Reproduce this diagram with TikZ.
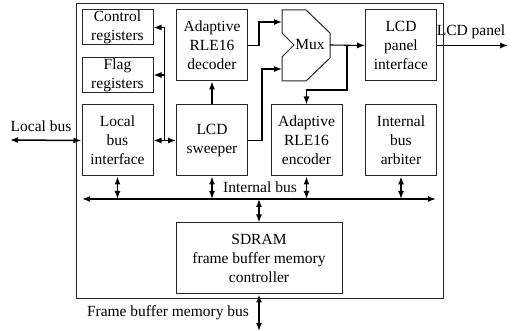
\documentclass[tikz,border=0pt]{standalone}
\usepackage{fontspec}
\setmainfont{Liberation Serif}
\usepackage{tikz}
\usetikzlibrary{arrows.meta,calc}

\tikzset{
    blk/.style={draw=black!85, line width=1pt, align=center, inner sep=0pt,
        minimum width=71pt, minimum height=71pt},
    regbox/.style={blk, minimum height=35pt},
    wire/.style={line width=1.1pt, -{Latex[length=8pt,width=6pt]}},
    biwire/.style={line width=1.5pt, {Latex[length=8pt,width=6pt]}-{Latex[length=8pt,width=6pt]}},
    lbl/.style={inner sep=0pt}
}

\begin{document}
\begin{tikzpicture}[x=1pt, y=-1pt, font=\fontsize{15.5}{19}\selectfont]
    \useasboundingbox (0,0) rectangle (515,331);

    % chip outline
    \draw[draw=black!85, line width=1pt] (76,4) rectangle (443,299);

    % registers and interfaces
    \node[regbox] (ctrl) at (117.5,27.5) {Control\\registers};
    \node[regbox] (flag) at (117.5,75) {Flag\\registers};
    \node[blk] (lbi) at (117.5,140.5) {Local\\bus\\interface};

    \node[blk] (dec) at (212,45.5) {Adaptive\\RLE16\\decoder};
    \node[blk] (swp) at (212,140.5) {LCD\\sweeper};

    \node[blk] (enc) at (306.5,140.5) {Adaptive\\RLE16\\encoder};
    \node[blk] (lpi) at (401,45.5) {LCD\\panel\\interface};
    \node[blk] (arb) at (401,140.5) {Internal\\bus\\arbiter};

    \node[blk, minimum width=166pt] (sdram) at (259,258.5) {SDRAM\\frame buffer memory\\controller};

    % multiplexer
    \draw[draw=black!85, line width=1pt] (282,10) -- (306,10) -- (330,33) -- (330,58)
        -- (306,81) -- (282,81) -- (282,57) -- (294,45) -- (282,33) -- cycle;
    \node[lbl] (mux) at (310,45) {Mux};
    \coordinate (muxa) at (282,22);
    \coordinate (muxb) at (282,69);
    \coordinate (muxo) at (330,45);

    % local bus side
    \coordinate (lbus) at (10,140);
    \coordinate (jn) at ($(lbi.east)!0.5!(swp.west)$);
    \draw[biwire] (lbus) -- (lbi.west);
    \node[lbl] at (41,126) {Local bus};
    \draw[biwire] (lbi.east) -- (swp.west);
    \draw[line width=1.1pt] (jn) -- (jn |- ctrl.east);
    \draw[wire] (jn |- ctrl.east) -- (ctrl.east);
    \draw[wire] (jn |- flag.east) -- (flag.east);

    % display path
    \draw[wire] (swp.north) -- (dec.south);
    \draw[wire] (dec.east) -- (259,45.5) |- (muxa);
    \draw[wire] (swp.east) -- (262,140.5) |- (muxb);
    \draw[wire] (muxo) -- (lpi.west);
    \draw[wire] (347,45) -- (347,90) -| (enc.north);
    \coordinate (lcd) at (508,45.5);
    \draw[wire] (lpi.east) -- (lcd);
    \node[lbl] at (471,32) {LCD panel};

    % internal bus
    \coordinate (ibl) at (82,199);
    \coordinate (ibr) at (436,199);
    \draw[biwire] (ibl) -- (ibr);
    \node[lbl] at (260,187) {Internal bus};
    \draw[biwire] (lbi.south) -- (lbi.south |- ibl);
    \draw[biwire] (swp.south) -- (swp.south |- ibl);
    \draw[biwire] (enc.south) -- (enc.south |- ibl);
    \draw[biwire] (arb.south) -- (arb.south |- ibl);
    \draw[biwire] (sdram.north |- ibl) -- (sdram.north);

    % memory bus
    \coordinate (fbus) at (259,331);
    \draw[biwire] (sdram.south) -- (fbus);
    \node[lbl] at (168,313) {Frame buffer memory bus};
\end{tikzpicture}
\end{document}
